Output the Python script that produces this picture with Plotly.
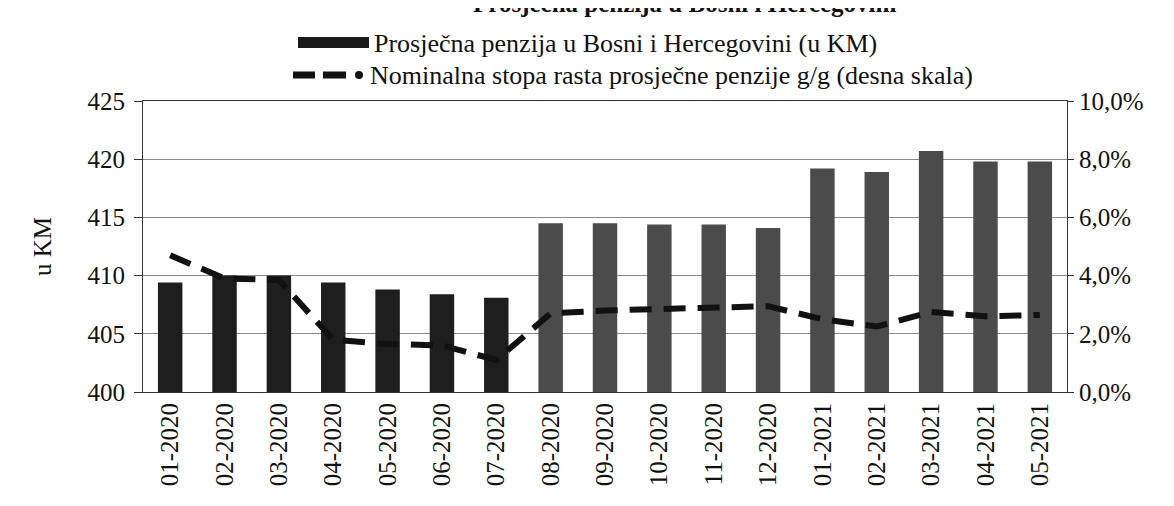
import plotly.graph_objects as go

months = ["01-2020", "02-2020", "03-2020", "04-2020", "05-2020", "06-2020", "07-2020",
          "08-2020", "09-2020", "10-2020", "11-2020", "12-2020",
          "01-2021", "02-2021", "03-2021", "04-2021", "05-2021"]
pension_km = [409.4, 410.0, 410.0, 409.4, 408.8, 408.4, 408.1,
              414.5, 414.5, 414.4, 414.4, 414.1,
              419.2, 418.9, 420.7, 419.8, 419.8]
growth_yoy = [0.047, 0.039, 0.0385, 0.018, 0.0165, 0.016, 0.011,
              0.027, 0.028, 0.0285, 0.0295, 0.0295,
              0.025, 0.0225, 0.0275, 0.026, 0.0265]
bar_name = "Prosječna penzija u Bosni i Hercegovini (u KM)"
line_name = "Nominalna stopa rasta prosječne penzije g/g (desna skala)"
title_text = "Prosječna penzija u Bosni i Hercegovini"

bar_colors = ["#1e1e1e"] * 7 + ["#4b4b4b"] * 10
FONT = "Liberation Serif"

W, H = 1174, 506
L, R, T, B = 135, 115, 93, 122
PW, PH = W - L - R, H - T - B


def px(xp):
    return (xp - L) / PW


def py(yp):
    return (H - B - yp) / PH


fig = go.Figure()
fig.add_trace(go.Bar(
    x=months, y=pension_km, name=bar_name, showlegend=False,
    marker=dict(color=bar_colors, line=dict(width=0)), yaxis="y"))
fig.add_trace(go.Scatter(
    x=months, y=growth_yoy, name=line_name, showlegend=False,
    mode="lines", line=dict(color="#111111", width=6, dash="22px,12px"), yaxis="y2"))

# manual legend (wide bar swatch, dash-dash-dot line swatch)
row1, row2 = 35, 67
shapes = [
    dict(type="rect", xref="paper", yref="paper", x0=px(290), x1=px(361),
         y0=py(row1 + 5), y1=py(row1 - 6), fillcolor="#1a1a1a", line=dict(width=0)),
    dict(type="line", xref="paper", yref="paper", x0=px(285), x1=px(307),
         y0=py(row2), y1=py(row2), line=dict(color="#111111", width=7)),
    dict(type="line", xref="paper", yref="paper", x0=px(315), x1=px(338),
         y0=py(row2), y1=py(row2), line=dict(color="#111111", width=7)),
    dict(type="circle", xref="paper", yref="paper", x0=px(347), x1=px(355),
         y0=py(row2 + 4), y1=py(row2 - 4), fillcolor="#111111", line=dict(width=0)),
]
annotations = [
    dict(text=bar_name, xref="paper", yref="paper", x=px(364), y=py(row1),
         xanchor="left", yanchor="middle", showarrow=False, font=dict(family=FONT, size=26)),
    dict(text=line_name, xref="paper", yref="paper", x=px(360), y=py(row2),
         xanchor="left", yanchor="middle", showarrow=False, font=dict(family=FONT, size=26)),
    dict(text="<b>" + title_text + "</b>", xref="paper", yref="paper",
         x=px(890), y=py(11), xanchor="right", yanchor="bottom", showarrow=False,
         font=dict(family=FONT, size=25)),
]

fig.update_layout(
    width=W, height=H,
    margin=dict(l=L, r=R, t=T, b=B, autoexpand=False),
    paper_bgcolor="white", plot_bgcolor="white",
    separators=",.",
    font=dict(family=FONT, size=25, color="#111111"),
    bargap=0.55,
    showlegend=False,
    xaxis=dict(type="category", tickangle=-90, tickfont=dict(size=25),
               showline=True, mirror=True, linecolor="#333", linewidth=1,
               ticks="", showgrid=False),
    yaxis=dict(range=[400, 425], dtick=5, showgrid=True, gridcolor="#8a8a8a", gridwidth=1,
               showline=True, linecolor="#333", linewidth=1, ticks="outside", ticklen=8,
               tickcolor="#333", ticklabelstandoff=4,
               title=dict(text="u KM", font=dict(size=25), standoff=28), zeroline=False),
    yaxis2=dict(range=[0, 0.10], dtick=0.02, tickformat=".1%", overlaying="y", side="right",
                showgrid=False, showline=True, linecolor="#333", linewidth=1,
                ticks="outside", ticklen=6, tickcolor="#333", zeroline=False),
    shapes=shapes,
    annotations=annotations,
)

fig.write_html("out.html")
